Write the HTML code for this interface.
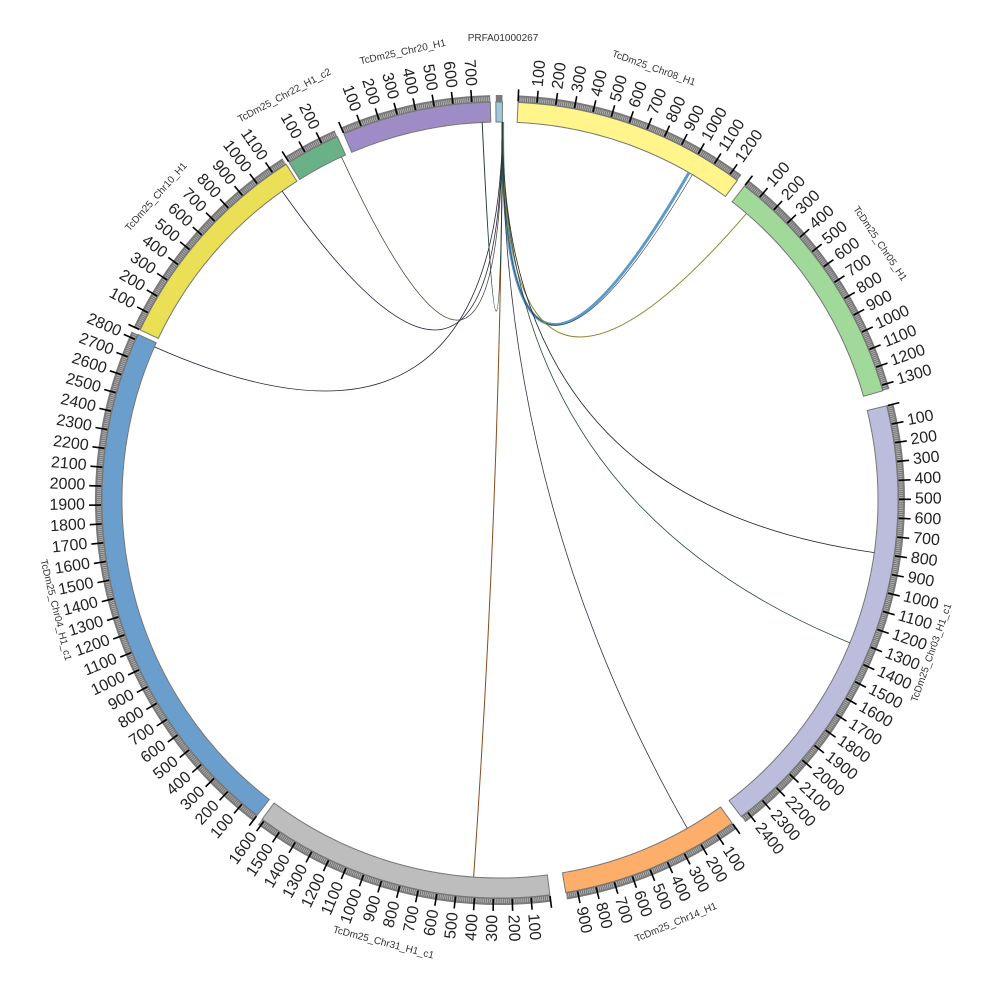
<!DOCTYPE html>
<html><head><meta charset="utf-8"><style>
html,body{margin:0;padding:0;background:#fff;}
svg{display:block;font-family:"Liberation Sans",sans-serif;}
</style></head><body>
<svg id="s" width="1000" height="1000" viewBox="0 0 1000 1000" xmlns="http://www.w3.org/2000/svg"></svg>
<script>
const S=document.getElementById('s');
const cx=500,cy=500,R0=378,R1=398,K=0.0272;
const chrs=[
 ["TcDm25_Chr08_H1",2.6,1250,"#fff58a"],
 ["TcDm25_Chr05_H1",37.9,1330,"#a1d99b"],
 ["TcDm25_Chr03_H1_c1",76.3,2441,"#bcbddc"],
 ["TcDm25_Chr14_H1",144.3,963,"#fdae6b"],
 ["TcDm25_Chr31_H1_c1",172.8,1614,"#bdbdbd"],
 ["TcDm25_Chr04_H1_c1",217.6,2830,"#6a9fcd"],
 ["TcDm25_Chr10_H1",295.3,1184,"#ebdf55"],
 ["TcDm25_Chr22_H1_c2",328.0,290,"#6ab187"],
 ["TcDm25_Chr20_H1",336.9,798,"#9e8cc6"],
 ["PRFA01000267",359.4,35,"#9ecae1"]
];
function pt(a,r){const t=a*Math.PI/180;return [cx+r*Math.sin(t),cy-r*Math.cos(t)];}
let h='';
for(const c of chrs){
 const [name,a0,len,col]=c;const a1=a0+len*K;
 const p1=pt(a0,R1),p2=pt(a1,R1),p3=pt(a1,R0),p4=pt(a0,R0);
 const lg=(a1-a0)>180?1:0;
 // gray tick band
 const b1=pt(a0,R1+3.5),b2=pt(a1,R1+3.5);
 h+=`<path d="M${b1} A${R1+3.5},${R1+3.5} 0 ${lg} 1 ${b2}" fill="none" stroke="#7a7a7a" stroke-width="7"/>`;
 h+=`<path d="M${p1} A${R1},${R1} 0 ${lg} 1 ${p2} L${p3} A${R0},${R0} 0 ${lg} 0 ${p4}Z" fill="${col}" stroke="#777" stroke-width="1"/>`;
 if(name.startsWith("PRFA")){
  h+=`<text x="503" y="41" font-size="10" fill="#333" text-anchor="middle">${name}</text>`;
  continue;
 }
 for(let u=10;u<=len;u+=10){
  if(u%100===0)continue;
  const a=a0+u*K;const q=pt(a,R1+1),w=pt(a,R1+5);
  h+=`<line x1="${q[0]}" y1="${q[1]}" x2="${w[0]}" y2="${w[1]}" stroke="#ddd" stroke-width="0.5"/>`;
 }
 for(let u=0;u<=len;u+=100){
  const a=a0+u*K;const q=pt(a,R1+1),w=pt(a,R1+13);
  h+=`<line x1="${q[0]}" y1="${q[1]}" x2="${w[0]}" y2="${w[1]}" stroke="#000" stroke-width="1.6"/>`;
 }
 for(let u=100;u<=len;u+=100){
  const a=a0+u*K;const p=pt(a,415);
  let rot,anc;
  if(a%360<180){rot=a-90;anc="start";}else{rot=a+90;anc="end";}
  h+=`<text x="${p[0]}" y="${p[1]}" font-size="16" fill="#222" text-anchor="${anc}" dominant-baseline="middle" transform="rotate(${rot} ${p[0]} ${p[1]})">${u}</text>`;
 }
 const am=a0+len*K/2;const p=pt(am,458);
 const rot=(am>90&&am<270)?am-180:am;
 h+=`<text x="${p[0]}" y="${p[1]}" font-size="10" fill="#333" text-anchor="middle" dominant-baseline="middle" transform="rotate(${rot} ${p[0]} ${p[1]})">${name}</text>`;
}
const links=[[30,"#5b9bc9",3],[40.7,"#8a8a30",1],[98,"#223",0.8],[112.2,"#2a4a3a",0.8],[150.3,"#334",0.8],[184,"#8a4a20",1],[293.9,"#223",0.8],[324.8,"#224",0.8],[335.2,"#443",0.8],[357.3,"#254030",1]];
for(const [a,col,w] of links){
 const s=pt(0.4,R0),e=pt(a,R0);
 h+=`<path d="M${s} Q${cx},${cy} ${e}" fill="none" stroke="${col}" stroke-width="${w}"/>`;
 if(w>2){const e2=pt(a+0.6,R0);h+=`<path d="M${s} Q${cx},${cy} ${e2}" fill="none" stroke="#335" stroke-width="0.6"/>`;}
}
S.innerHTML=h;
</script>
</body></html>
